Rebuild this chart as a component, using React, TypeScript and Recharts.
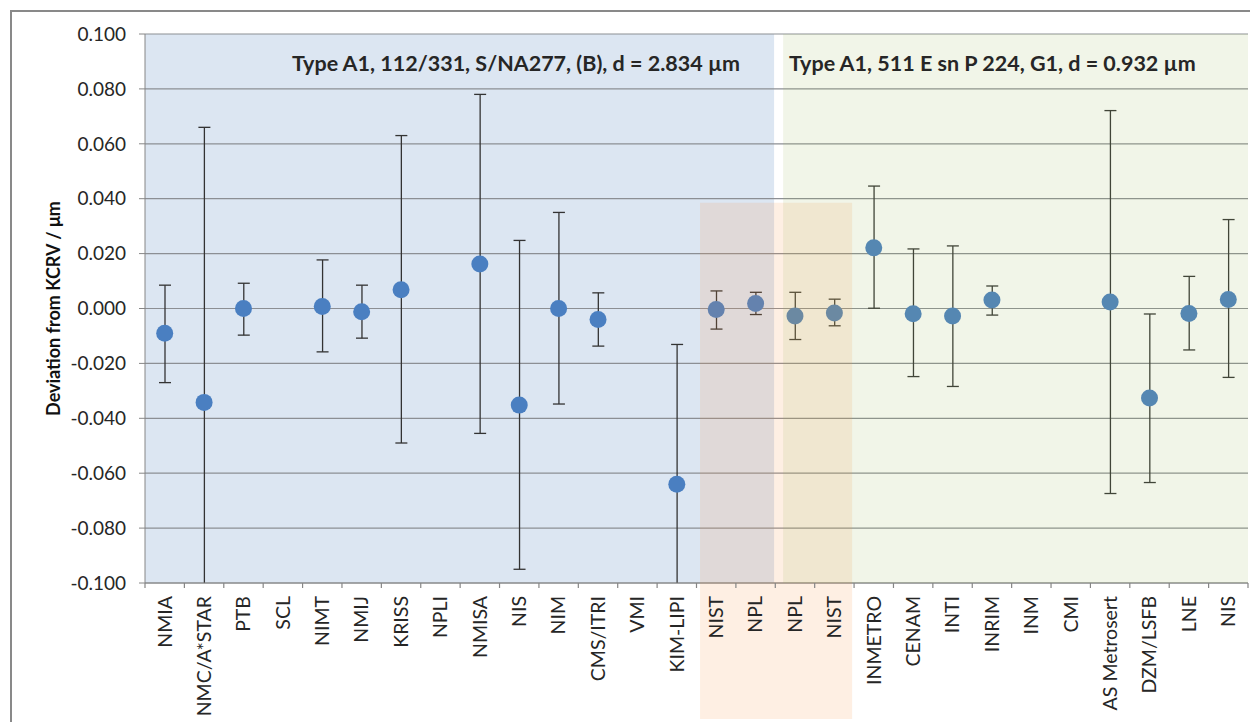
import {
    ComposedChart,
    XAxis,
    YAxis,
    CartesianGrid,
    Line,
    Bar,
    ReferenceArea,
} from 'recharts';

const labs = [
    'NMIA', 'NMC/A*STAR', 'PTB', 'SCL', 'NIMT', 'NMIJ', 'KRISS', 'NPLI', 'NMISA', 'NIS',
    'NIM', 'CMS/ITRI', 'VMI', 'KIM-LIPI', 'NIST', 'NPL', 'NPL', 'NIST', 'INMETRO', 'CENAM',
    'INTI', 'INRIM', 'INM', 'CMI', 'AS Metrosert', 'DZM/LSFB', 'LNE', 'NIS',
];
const dev = [
    -0.009, -0.0342, 0.0, null, 0.0007, -0.0012, 0.0068, null, 0.0162, -0.0352,
    0.0, -0.004, null, -0.064, -0.0004, 0.0018, -0.0027, -0.0016, 0.0221, -0.0019,
    -0.0027, 0.0031, null, null, 0.0024, -0.0326, -0.0018, 0.0033,
];
const upr = [
    0.0085, 0.066, 0.0092, null, 0.0177, 0.0085, 0.063, null, 0.078, 0.0248,
    0.035, 0.0057, null, -0.0131, 0.0064, 0.0059, 0.0059, 0.0034, 0.0446, 0.0217,
    0.0228, 0.0082, null, null, 0.0721, -0.002, 0.0117, 0.0324,
];
const lwr = [
    -0.027, -0.134, -0.0097, null, -0.0158, -0.0108, -0.049, null, -0.0455, -0.095,
    -0.0348, -0.0137, null, -0.115, -0.0075, -0.0022, -0.0113, -0.0063, 0.0001, -0.0248,
    -0.0284, -0.0024, null, null, -0.0674, -0.0634, -0.0151, -0.0251,
];
const yTicks = [-0.1, -0.08, -0.06, -0.04, -0.02, 0, 0.02, 0.04, 0.06, 0.08, 0.1];
// category slots sit at i + 0.5, their borders at whole numbers
const xTicks = Array.from({ length: labs.length * 2 + 1 }, (_, i) => i / 2);

const rows = labs.map((name, i) => ({
    name,
    pos: i + 0.5,
    value: dev[i],
    range: dev[i] === null ? null : [lwr[i], upr[i]],
}));

const font = 'Lato, "Open Sans", sans-serif';

function SlotTick(props: any) {
    const { x, y, payload } = props;
    const v = payload.value as number;
    if (Number.isInteger(v)) {
        return <line x1={x} y1={y} x2={x} y2={y + 5} stroke="#868686" strokeWidth={1.2} />;
    }
    const ty = y + 13;
    return (
        <text
            x={x}
            y={ty}
            dy="0.35em"
            transform={`rotate(-90 ${x} ${ty})`}
            textAnchor="end"
            fontSize={19.5}
            fontFamily={font}
            fill="#262626"
        >
            {labs[Math.floor(v)]}
        </text>
    );
}

// error bar drawn from the bar's rect, trimmed to the plot box (no cap where it runs off)
function Whisker(props: any) {
    const { x, y, width, height, background } = props;
    if (height == null || isNaN(y)) return null;
    const cx = x + width / 2;
    const a = Math.min(y, y + height);
    const b = Math.max(y, y + height);
    const top = background ? background.y : -Infinity;
    const bot = background ? background.y + background.height : Infinity;
    const y1 = Math.max(a, top);
    const y2 = Math.min(b, bot);
    const c = 6;
    return (
        <g stroke="#333" strokeWidth={1.3}>
            <line x1={cx} y1={y1} x2={cx} y2={y2} />
            {a >= top - 0.5 && <line x1={cx - c} y1={a} x2={cx + c} y2={a} />}
            {b <= bot + 0.5 && <line x1={cx - c} y1={b} x2={cx + c} y2={b} />}
        </g>
    );
}

function YTitle(props: any) {
    const vb = props.viewBox;
    const x = vb.x + 45;
    const y = vb.y + vb.height / 2;
    return (
        <text
            x={x}
            y={y}
            transform={`rotate(-90 ${x} ${y})`}
            textAnchor="middle"
            dominantBaseline="central"
            fontSize={18}
            fontWeight="bold"
            fontFamily={font}
            fill="#111"
        >
            Deviation from KCRV / μm
        </text>
    );
}

const titleStyle: React.CSSProperties = {
    position: 'absolute',
    top: 42,
    fontFamily: font,
    fontWeight: 'bold',
    fontSize: 21.5,
    lineHeight: '26px',
    color: '#262626',
    whiteSpace: 'nowrap',
    zIndex: 5,
};

export default function App() {
    return (
        <div style={{ position: 'relative', width: 1250, height: 714, overflow: 'hidden', background: '#fff' }}>
            <div
                style={{
                    position: 'absolute',
                    left: 2,
                    top: 2,
                    width: 1300,
                    height: 800,
                    border: '2px solid #898989',
                }}
            />
            <div style={{ position: 'absolute', left: 0, top: 0 }}>
                <ComposedChart
                    width={1250}
                    height={714}
                    data={rows}
                    margin={{ top: 26, right: 10, left: 0, bottom: 0 }}
                >
                    <XAxis
                        dataKey="pos"
                        type="number"
                        domain={[0, labs.length]}
                        allowDataOverflow
                        ticks={xTicks}
                        interval={0}
                        tickLine={false}
                        tickSize={0}
                        tickMargin={0}
                        height={139}
                        tick={<SlotTick />}
                        stroke="#868686"
                    />
                    <YAxis
                        domain={[-0.1, 0.1]}
                        ticks={yTicks}
                        allowDataOverflow
                        width={137}
                        tickSize={6}
                        tickMargin={13}
                        tickFormatter={(v: number) => v.toFixed(3)}
                        tick={{ fontSize: 19, fontFamily: font, fill: '#262626' }}
                        stroke="#868686"
                        label={<YTitle />}
                    />
                    <ReferenceArea
                        x1={0}
                        x2={15.97}
                        y1={-0.1}
                        y2={0.1}
                        fill="#dce6f2"
                        fillOpacity={1}
                        stroke="none"
                        ifOverflow="visible"
                        zIndex={-150}
                    />
                    <CartesianGrid vertical={false} stroke="#8c8f94" strokeWidth={1.2} />
                    <Bar
                        dataKey="range"
                        barSize={12}
                        isAnimationActive={false}
                        shape={<Whisker />}
                        activeBar={false}
                    />
                    <Line
                        dataKey="value"
                        stroke="none"
                        isAnimationActive={false}
                        dot={{ r: 8.5, fill: '#4a7fc1', stroke: 'none' }}
                        activeDot={false}
                    />
                    <ReferenceArea
                        x1={14.09}
                        x2={17.95}
                        y1={-0.1495}
                        y2={0.0385}
                        fill="#f79646"
                        fillOpacity={0.15}
                        stroke="none"
                        ifOverflow="visible"
                        zIndex={1500}
                    />
                    <ReferenceArea
                        x1={16.2}
                        x2={labs.length}
                        y1={-0.1}
                        y2={0.1}
                        fill="#9bbb59"
                        fillOpacity={0.14}
                        stroke="none"
                        ifOverflow="visible"
                        zIndex={1500}
                    />
                </ComposedChart>
            </div>
            <div style={{ ...titleStyle, left: 284 }}>Type A1, 112/331, S/NA277, (B), d = 2.834 µm</div>
            <div style={{ ...titleStyle, left: 781 }}>Type A1, 511 E sn P 224, G1, d = 0.932 µm</div>
        </div>
    );
}
